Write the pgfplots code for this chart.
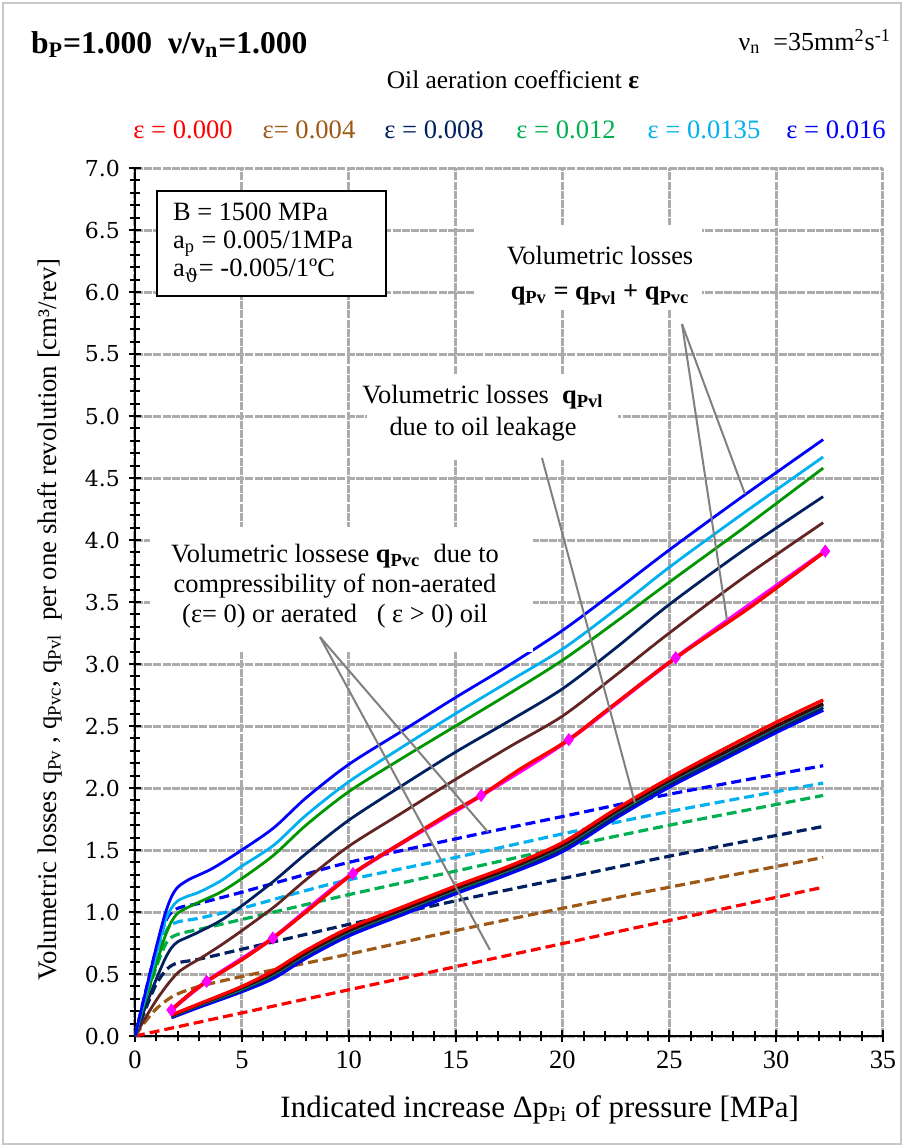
\documentclass[border=0pt]{standalone}
\usepackage{pgfplots}
\pgfplotsset{compat=1.18}
\usepackage{fontspec}
\usepackage{graphicx}
\setmainfont{Liberation Serif}
\newfontfamily\dvs{DejaVu Serif}
\definecolor{cRed}{RGB}{255,0,0}
\definecolor{cBrownS}{RGB}{99,37,35}
\definecolor{cBrownD}{RGB}{158,88,22}
\definecolor{cNavy}{RGB}{0,32,96}
\definecolor{cGreenS}{RGB}{0,150,0}
\definecolor{cGreenD}{RGB}{0,176,80}
\definecolor{cLBlue}{RGB}{0,176,240}
\definecolor{cBlue}{RGB}{0,0,255}
\definecolor{cMag}{RGB}{255,0,255}
\definecolor{cGrid}{RGB}{172,172,172}
\definecolor{cCall}{RGB}{128,128,128}
\definecolor{cTeal}{RGB}{0,128,128}
\definecolor{cDark}{RGB}{70,0,0}
\definecolor{cFrame}{RGB}{200,200,200}
\begin{document}
\begin{tikzpicture}
\useasboundingbox (0,0) rectangle (452pt,-573.5pt);
\begin{axis}[
  at={(67.5pt,-518pt)}, anchor=south west,
  scale only axis, width=374pt, height=434pt,
  xmin=0, xmax=35, ymin=0, ymax=7,
  axis x line=bottom, axis y line=left,
  axis line style={-, line width=1pt, black},
  xtick={0,5,10,15,20,25,30,35}, xticklabels={0,5,10,15,20,25,30,35},
  ytick={0,0.5,1,1.5,2,2.5,3,3.5,4,4.5,5,5.5,6,6.5,7},
  yticklabels={0.0,0.5,1.0,1.5,2.0,2.5,3.0,3.5,4.0,4.5,5.0,5.5,6.0,6.5,7.0},
  minor x tick num=4, minor y tick num=4,
  tick align=center, major tick length=6pt, minor tick length=5pt,
  tick style={black, line width=1pt},
  grid=major, major grid style={cGrid, line width=1.5pt, dash pattern=on 4pt off 0.6pt},
  xticklabel style={font=\fontsize{13.2pt}{15pt}\selectfont, yshift=-1pt},
  yticklabel style={font=\dvs\fontsize{11pt}{13pt}\selectfont, xshift=-1pt},
  xlabel={Indicated increase Δp\textsubscript{Pi} of pressure [MPa]},
  xlabel style={at={(axis description cs:0.541,-0.085)}, anchor=center, font=\fontsize{15.5pt}{18pt}\selectfont},
  ylabel={Volumetric losses q\textsubscript{Pv} , q\textsubscript{Pvc}, q\textsubscript{Pvl}\ \ per one shaft revolution [cm³/rev]},
  ylabel style={at={(axis description cs:-0.114,0.48)}, anchor=center, font=\fontsize{13.4pt}{15pt}\selectfont},
  every axis plot/.append style={smooth, tension=0.5},
]
% ---- compressibility losses (dashed)
\addplot[cRed, line width=1.6pt, dash pattern=on 5pt off 2.5pt] coordinates {(0,0) (32.2,1.2)};
\addplot[cBrownD, line width=1.6pt, dash pattern=on 5pt off 2.5pt] coordinates {(0,0) (0.5,0.12) (1,0.22) (1.5,0.29) (2,0.34) (3,0.40) (5,0.48) (7.5,0.57) (10,0.66) (15,0.85) (20,1.03) (25,1.20) (32.2,1.44)};
\addplot[cNavy, line width=1.6pt, dash pattern=on 5pt off 2.5pt] coordinates {(0,0) (0.5,0.22) (1,0.42) (1.5,0.54) (2,0.59) (3,0.62) (5,0.70) (7.5,0.80) (10,0.90) (15,1.09) (20,1.27) (25,1.45) (32.2,1.69)};
\addplot[cGreenD, line width=1.6pt, dash pattern=on 5pt off 2.5pt] coordinates {(0,0) (0.5,0.29) (1,0.56) (1.5,0.76) (2,0.82) (3,0.86) (5,0.94) (7.5,1.04) (10,1.14) (15,1.33) (20,1.52) (25,1.70) (32.2,1.94)};
\addplot[cLBlue, line width=1.6pt, dash pattern=on 5pt off 2.5pt] coordinates {(0,0) (0.5,0.33) (1,0.64) (1.5,0.86) (2,0.92) (3,0.95) (5,1.03) (7.5,1.15) (10,1.26) (15,1.44) (20,1.63) (25,1.81) (32.2,2.04)};
\addplot[cBlue, line width=1.6pt, dash pattern=on 5pt off 2.5pt] coordinates {(0,0) (0.5,0.36) (1,0.70) (1.5,0.95) (2,1.03) (3,1.07) (5,1.16) (7.5,1.28) (10,1.40) (15,1.59) (20,1.77) (25,1.95) (32.2,2.18)};
% ---- total losses (solid)
\addplot[cBrownS, line width=1.4pt] coordinates {(0,0) (0.5,0.15) (1,0.29) (1.5,0.41) (2,0.51) (2.5,0.57) (3,0.62) (4,0.73) (5,0.85) (6.5,1.04) (8,1.26) (10,1.53) (12.5,1.80) (15,2.07) (17.5,2.33) (20,2.58) (22.5,2.91) (25,3.25) (28.5,3.70) (32.2,4.14)};
\addplot[cNavy, line width=1.4pt] coordinates {(0,0) (0.5,0.24) (1,0.46) (1.4,0.62) (1.7,0.71) (2,0.76) (2.5,0.80) (3,0.84) (4,0.93) (5,1.05) (6.5,1.25) (8,1.47) (10,1.74) (12.5,2.02) (15,2.29) (17.5,2.54) (20,2.80) (22.5,3.13) (25,3.48) (28.5,3.92) (32.2,4.35)};
\addplot[cGreenS, line width=1.4pt] coordinates {(0,0) (0.5,0.30) (1,0.58) (1.4,0.80) (1.7,0.92) (2,0.99) (2.5,1.04) (3,1.08) (4,1.16) (5,1.27) (6.5,1.46) (8,1.70) (10,1.97) (12.5,2.24) (15,2.50) (17.5,2.76) (20,3.03) (22.5,3.34) (25,3.66) (28.5,4.10) (32.2,4.58)};
\addplot[cLBlue, line width=1.4pt] coordinates {(0,0) (0.5,0.33) (1,0.66) (1.4,0.92) (1.7,1.03) (2,1.09) (2.5,1.13) (3,1.16) (4,1.25) (5,1.37) (6.5,1.54) (8,1.78) (10,2.05) (12.5,2.33) (15,2.60) (17.5,2.86) (20,3.12) (22.5,3.44) (25,3.78) (28.5,4.22) (32.2,4.67)};
\addplot[cBlue, line width=1.4pt] coordinates {(0,0) (0.5,0.36) (1,0.72) (1.4,0.98) (1.7,1.12) (2,1.20) (2.5,1.26) (3,1.30) (3.5,1.34) (4,1.39) (5,1.50) (6.5,1.68) (8,1.92) (10,2.19) (12.5,2.46) (15,2.73) (17.5,2.99) (20,3.27) (22.5,3.59) (25,3.92) (28.5,4.36) (32.2,4.81)};
% ---- leakage losses (bundle)
\addplot[cBlue, line width=1.9pt] coordinates {(1.7,0.15) (3,0.235) (5,0.36) (6.5,0.47) (8,0.63) (10,0.81) (12.5,0.98) (15,1.15) (17.5,1.31) (20,1.49) (22.5,1.76) (25,2.01) (27.5,2.23) (30,2.45) (32.2,2.63)};
\addplot[cNavy, line width=1.6pt] coordinates {(1.7,0.155) (3,0.245) (5,0.37) (6.5,0.49) (8,0.65) (10,0.83) (12.5,1.00) (15,1.17) (17.5,1.33) (20,1.51) (22.5,1.78) (25,2.03) (27.5,2.25) (30,2.47) (32.2,2.65)};
\addplot[cTeal, line width=1.6pt] coordinates {(1.7,0.16) (3,0.25) (5,0.38) (6.5,0.50) (8,0.66) (10,0.84) (12.5,1.01) (15,1.18) (17.5,1.34) (20,1.53) (22.5,1.80) (25,2.05) (27.5,2.27) (30,2.49) (32.2,2.67)};
\addplot[cDark, line width=1.6pt] coordinates {(1.7,0.163) (3,0.255) (5,0.39) (6.5,0.51) (8,0.67) (10,0.85) (12.5,1.02) (15,1.19) (17.5,1.35) (20,1.54) (22.5,1.81) (25,2.06) (27.5,2.28) (30,2.50) (32.2,2.68)};
\addplot[cRed, line width=1.6pt] coordinates {(1.7,0.17) (3,0.26) (5,0.40) (6.5,0.53) (8,0.69) (10,0.87) (12.5,1.04) (15,1.21) (17.5,1.37) (20,1.56) (22.5,1.83) (25,2.08) (27.5,2.31) (30,2.53) (32.2,2.71)};
% ---- total losses for eps = 0 with markers
\addplot[cMag, line width=2.0pt, mark=diamond*, mark size=3pt, mark options={solid, fill=cMag, draw=cMag, line width=0.4pt}] coordinates {(1.7,0.21) (3.35,0.44) (6.45,0.79) (10.2,1.31) (16.2,1.94) (20.3,2.39) (25.3,3.05) (32.3,3.91)};
\addplot[cRed, line width=1.7pt] coordinates {(1.7,0.21) (2.5,0.33) (3.35,0.44) (5,0.615) (6.45,0.79) (8,1.0) (10.2,1.31) (12.5,1.56) (14.75,1.80) (16.2,1.94) (18,2.15) (20.3,2.39) (22.1,2.63) (25.3,3.05) (28.8,3.46) (32.3,3.91)};
\end{axis}
\begin{scope}[x=0.5pt,y=-0.5pt]
\draw[cFrame, line width=1pt] (3,3) rectangle (901,1144);
% header
\node[anchor=base west, font=\fontsize{15.8pt}{18pt}\selectfont\bfseries] at (24,53) {b\textsubscript{P}=1.000\ \ ν/ν\textsubscript{n}=1.000};
\node[anchor=base east, font=\fontsize{13pt}{15pt}\selectfont] at (898,50) {ν\textsubscript{n}\ \ =35mm\textsuperscript{2}s\textsuperscript{-1}};
\node[anchor=base, font=\fontsize{12.7pt}{15pt}\selectfont] at (513,88) {Oil aeration coefficient \textbf{ε}};
\begin{scope}[every node/.style={anchor=base, font=\fontsize{13.3pt}{15pt}\selectfont}]
\node[text=cRed] at (183,138) {ε = 0.000};
\node[text=cBrownD] at (309,138) {ε= 0.004};
\node[text=cNavy] at (434,138) {ε = 0.008};
\node[text=cGreenD] at (566,138) {ε = 0.012};
\node[text=cLBlue] at (704,138) {ε = 0.0135};
\node[text=cBlue] at (836,138) {ε = 0.016};
\end{scope}
% parameter box
\draw[black, line width=1pt, fill=white] (157,191) rectangle (386,296);
\node[anchor=west, align=left, font=\fontsize{13.2pt}{14pt}\selectfont] at (166,243) {B = 1500 MPa\\a\textsubscript{p} = 0.005/1MPa\\a\textsubscript{\dvs ϑ}= -0.005/1ºC};
% annotation boxes
\fill[white] (150,527) rectangle (533,652);
\node[align=center, font=\fontsize{13.2pt}{15pt}\selectfont] at (335,586) {Volumetric lossese \textbf{q\textsubscript{Pvc}}\ \ due to\\compressibility of non-aerated\\(ε= 0) or aerated\ \ \ ( ε > 0) oil};
\fill[white] (367,375) rectangle (618,460);
\node[align=center, font=\fontsize{13.2pt}{16pt}\selectfont] at (483,413) {Volumetric losses\ \ \textbf{q\textsubscript{Pvl}}\\due to oil leakage};
\fill[white] (475,225) rectangle (702,310);
\node[align=center, font=\fontsize{13.2pt}{17.5pt}\selectfont] at (600,276) {Volumetric losses\\\textbf{q\textsubscript{Pv} = q\textsubscript{Pvl} + q\textsubscript{Pvc}}};
% callout lines
\draw[cCall, line width=1pt] (320,637) -- (488,832);
\draw[cCall, line width=1pt] (320,637) -- (490,950);
\draw[cCall, line width=1pt] (542,458) -- (635,803);
\draw[cCall, line width=1pt] (682,324) -- (745,494);
\draw[cCall, line width=1pt] (682,324) -- (727,620);
\end{scope}
\end{tikzpicture}
\end{document}
